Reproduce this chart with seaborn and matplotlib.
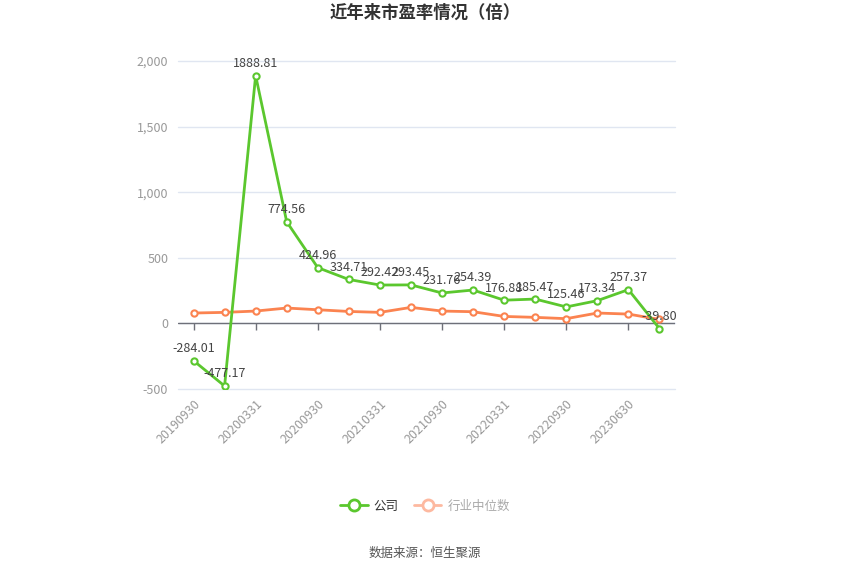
import matplotlib
matplotlib.use("Agg")
import matplotlib.pyplot as plt
from matplotlib.lines import Line2D
from matplotlib.markers import TICKDOWN
from matplotlib.ticker import FuncFormatter, MultipleLocator
import seaborn as sns
import pandas as pd

# 报告期
dates = ["20190930", "20191231", "20200331", "20200630", "20200930", "20201231",
         "20210331", "20210630", "20210930", "20211231", "20220331", "20220630",
         "20220930", "20230331", "20230630", "20230930"]
# 公司市盈率
company = [-284.01, -477.17, 1888.81, 774.56, 424.96, 334.71, 292.42, 293.45,
           231.76, 254.39, 176.88, 185.47, 125.46, 173.34, 257.37, -39.80]
# 行业中位数
industry = [79, 84, 94, 117, 104, 91, 84, 122, 94, 89, 53, 46, 36, 79, 71, 30]

GREEN = "#5BC72E"
ORANGE = "#FB8350"

sns.set_theme(style="white")
plt.rcParams["font.family"] = ["Noto Sans CJK SC", "DejaVu Sans"]
plt.rcParams["axes.unicode_minus"] = False

df = pd.DataFrame({"idx": range(len(dates)), "date": dates,
                   "company": company, "industry": industry})

fig = plt.figure(figsize=(8.5, 5.75), dpi=100)
ax = fig.add_axes([0.2094, 0.3235, 0.5847, 0.5704])

sns.lineplot(data=df, x="idx", y="industry", ax=ax, color=ORANGE, linewidth=2,
             marker="o", markersize=4.5, markerfacecolor="white",
             markeredgecolor=ORANGE, markeredgewidth=1.5, zorder=3)
sns.lineplot(data=df, x="idx", y="company", ax=ax, color=GREEN, linewidth=2,
             marker="o", markersize=4.5, markerfacecolor="white",
             markeredgecolor=GREEN, markeredgewidth=1.5, zorder=4)

for i, v in zip(df["idx"], df["company"]):
    ax.annotate(f"{v:.2f}", (i, v), xytext=(0, 4), textcoords="offset points",
                ha="center", va="bottom", fontsize=9, color="#444444", zorder=5)

ax.set_xlim(-0.5, len(dates) - 0.5)
ax.set_ylim(-500, 2000)
ax.yaxis.set_major_locator(MultipleLocator(500))
ax.yaxis.set_major_formatter(FuncFormatter(lambda v, p: f"{int(v):,}"))
ax.grid(axis="y", color="#E0E6F1", linewidth=1)
for gl in ax.get_ygridlines():
    gl.set_clip_on(False)
ax.axhline(0, color="#6E7079", linewidth=1, zorder=2)

ticks = list(range(0, len(dates), 2))
ax.set_xticks(ticks)
ax.set_xticklabels([dates[i] for i in ticks], rotation=45, ha="right",
                   rotation_mode="anchor", color="#999999", fontsize=9)
ax.tick_params(axis="x", length=0, pad=6)
ax.tick_params(axis="y", length=0, pad=7, labelsize=9, labelcolor="#999999")
ax.plot(ticks, [0] * len(ticks), linestyle="none", marker=TICKDOWN,
        markersize=5, color="#6E7079", markeredgewidth=1, zorder=2)
ax.set_xlabel("")
ax.set_ylabel("")
for s in ax.spines.values():
    s.set_visible(False)

fig.text(0.5, 0.977, "近年来市盈率情况（倍）", ha="center", va="center",
         fontsize=12.5, fontweight="bold", color="#333333")

handles = [
    Line2D([], [], color=GREEN, linewidth=2, marker="o", markersize=8,
           markerfacecolor="white", markeredgewidth=2),
    Line2D([], [], color="#FDB9A0", linewidth=2, marker="o", markersize=8,
           markerfacecolor="white", markeredgewidth=2),
]
leg = fig.legend(handles, ["公司", "行业中位数"], loc="center", ncol=2,
                 bbox_to_anchor=(0.5, 0.12), frameon=False, fontsize=9,
                 handlelength=2.2, columnspacing=1.2, handletextpad=0.5)
leg.get_texts()[0].set_color("#333333")
leg.get_texts()[1].set_color("#AAAAAA")

fig.text(0.5, 0.038, "数据来源：恒生聚源", ha="center", va="center",
         fontsize=9, color="#555555")

fig.savefig("out.png", dpi=100)
